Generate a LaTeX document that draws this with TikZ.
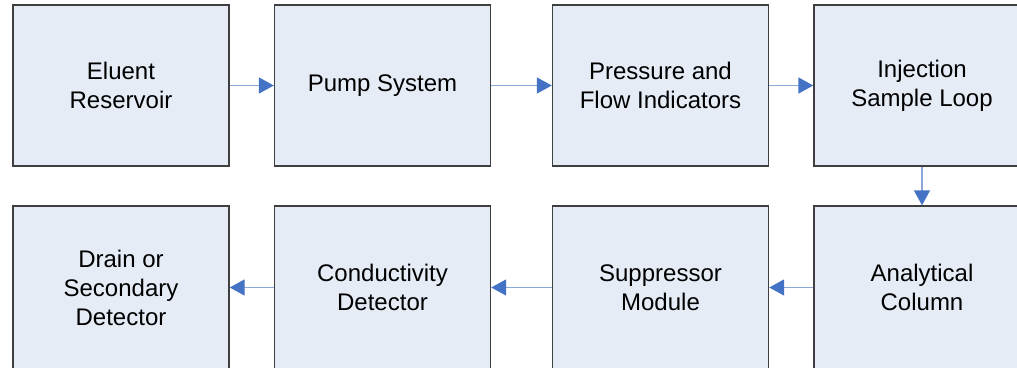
\documentclass[tikz,border=0pt]{standalone}
\usepackage{fontspec}
\setmainfont{Liberation Sans}
\usepackage{tikz}
\usetikzlibrary{arrows.meta}

\definecolor{boxfill}{HTML}{E5ECF6}
\definecolor{boxline}{HTML}{3F3F3F}
\definecolor{flowline}{HTML}{8CA8DA}
\definecolor{flowhead}{HTML}{4472C4}

\begin{document}
\begin{tikzpicture}[x=1pt, y=-1pt,
		stage/.style={draw=boxline, line width=1.4pt, fill=boxfill, minimum width=216pt, minimum height=161pt, inner sep=0pt, align=center, font=\fontsize{24}{29}\selectfont},
		lowstage/.style={stage, minimum height=163pt},
		flow/.style={draw=flowline, line width=1.6pt, -{Triangle[length=15pt, width=16pt, color=flowhead]}}]
					\clip (0, 0) rectangle (1017, 367);
					\fill[white] (0, 0) rectangle (1017, 367);

					% top row
					\node[stage] (reservoir) at (121, 85.5) {Eluent\\Reservoir};
					\node[stage] (pump) at (382.5, 85.5) {Pump System};
					\node[stage] (indicators) at (660.5, 85.5) {Pressure and\\Flow Indicators};
					\node[stage] (injection) at (922, 85.5) {Injection\\Sample Loop};

					% bottom row, runs off the lower edge
					\node[lowstage] (drain) at (121, 287.5) {Drain or\\Secondary\\Detector};
					\node[lowstage] (conductivity) at (382.5, 287.5) {Conductivity\\Detector};
					\node[lowstage] (suppressor) at (660.5, 287.5) {Suppressor\\Module};
					\node[lowstage] (column) at (922, 287.5) {Analytical\\Column};

					\draw[flow] (reservoir) -- (pump);
					\draw[flow] (pump) -- (indicators);
					\draw[flow] (indicators) -- (injection);
					\draw[flow] (injection) -- (column);
					\draw[flow] (column) -- (suppressor);
					\draw[flow] (suppressor) -- (conductivity);
					\draw[flow] (conductivity) -- (drain);
                \end{tikzpicture}
\end{document}
